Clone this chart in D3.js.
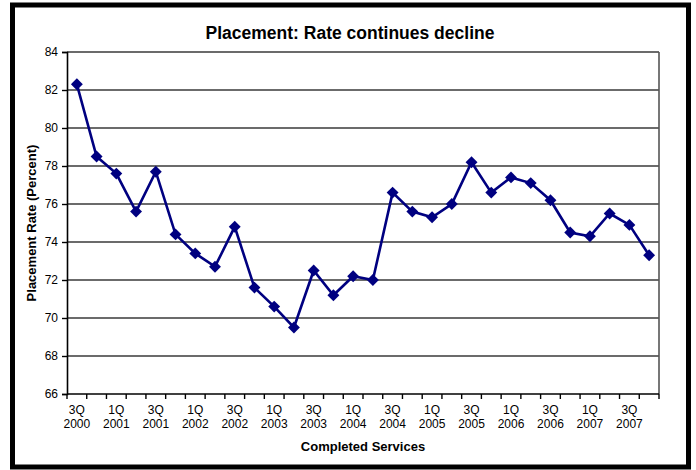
<!DOCTYPE html>
<html>
<head>
<meta charset="utf-8">
<script src="https://cdn.jsdelivr.net/npm/d3@7"></script>
<style>
	body { margin: 0; background: #fff; }
	text { font-family: "Liberation Sans", Arial, sans-serif; }
</style>
</head>
<body>
<script>
// Quarters from 3Q 2000 to 4Q 2007
var quarters = ["3Q 2000","4Q 2000","1Q 2001","2Q 2001","3Q 2001","4Q 2001","1Q 2002","2Q 2002",
				"3Q 2002","4Q 2002","1Q 2003","2Q 2003","3Q 2003","4Q 2003","1Q 2004","2Q 2004",
				"3Q 2004","4Q 2004","1Q 2005","2Q 2005","3Q 2005","4Q 2005","1Q 2006","2Q 2006",
				"3Q 2006","4Q 2006","1Q 2007","2Q 2007","3Q 2007","4Q 2007"];

// Placement rate (percent)
var rates = [82.3, 78.5, 77.6, 75.6, 77.7, 74.4, 73.4, 72.7, 74.8, 71.6, 70.6, 69.5, 72.5, 71.2, 72.2, 72.0,
			 76.6, 75.6, 75.3, 76.0, 78.2, 76.6, 77.4, 77.1, 76.2, 74.5, 74.3, 75.5, 74.9, 73.3];

var yTicks = [66, 68, 70, 72, 74, 76, 78, 80, 82, 84];

var data = quarters.map(function(q, i) { return {"q": q, "rate": rates[i]}; });

var margin = {top: 52, right: 37, bottom: 76, left: 67},
		width = 696 - margin.left - margin.right,
		height = 470 - margin.top - margin.bottom;

var svg = d3.select("body").append("svg")
		.attr("width", 696)
		.attr("height", 470);

// Outer black frame
svg.append("rect")
	.attr("x", 12.5)
	.attr("y", 5)
	.attr("width", 676)
	.attr("height", 462)
	.attr("fill", "#fff")
	.attr("stroke", "#000")
	.attr("stroke-width", 5);

var g = svg.append("g")
		.attr("transform", "translate(" + margin.left + "," + margin.top + ")");

var x = d3.scaleBand().domain(quarters).range([0, width]);
var y = d3.scaleLinear().domain([66, 84]).range([height, 0]);

// Gridlines
g.selectAll(".grid")
	.data(yTicks.slice(1))
	.enter().append("line")
		.attr("class", "grid")
		.attr("x1", 0)
		.attr("x2", width)
		.attr("y1", function(d) { return y(d); })
		.attr("y2", function(d) { return y(d); })
		.attr("stroke", "#3a3a3a")
		.attr("stroke-width", 1.6);

// Right border of plot area
g.append("line")
	.attr("x1", width).attr("x2", width)
	.attr("y1", 0).attr("y2", height)
	.attr("stroke", "#555")
	.attr("stroke-width", 1.6);

// Y axis
var yAxis = d3.axisLeft(y).tickValues(yTicks).tickSize(5).tickPadding(4);
var yg = g.append("g").call(yAxis);
yg.select(".domain").attr("stroke-width", 1.6);
yg.selectAll(".tick line").attr("stroke-width", 1.4);
yg.selectAll("text").style("font-size", "12px").attr("fill", "#000");

// X axis: ticks at category boundaries, labels every other quarter
var xg = g.append("g").attr("transform", "translate(0," + height + ")");
xg.append("line")
	.attr("x1", 0).attr("x2", width)
	.attr("stroke", "#000")
	.attr("stroke-width", 1.6);
xg.selectAll(".xtick")
	.data(d3.range(quarters.length + 1))
	.enter().append("line")
		.attr("class", "xtick")
		.attr("x1", function(i) { return i * x.step(); })
		.attr("x2", function(i) { return i * x.step(); })
		.attr("y1", 0)
		.attr("y2", 5)
		.attr("stroke", "#000")
		.attr("stroke-width", 1.4);

var labels = xg.selectAll(".xlabel")
	.data(quarters.filter(function(d, i) { return i % 2 == 0; }))
	.enter().append("text")
		.attr("class", "xlabel")
		.attr("text-anchor", "middle")
		.style("font-size", "12px")
		.attr("transform", function(d) { return "translate(" + (x(d) + x.bandwidth() / 2) + ",0)"; });
labels.append("tspan").attr("x", 0).attr("y", 20).text(function(d) { return d.split(" ")[0]; });
labels.append("tspan").attr("x", 0).attr("y", 34).text(function(d) { return d.split(" ")[1]; });

// Line and diamond markers
var line = d3.line()
	.x(function(d) { return x(d.q) + x.bandwidth() / 2; })
	.y(function(d) { return y(d.rate); });

g.append("path")
	.datum(data)
	.attr("fill", "none")
	.attr("stroke", "#000080")
	.attr("stroke-width", 2.6)
	.attr("d", line);

g.selectAll(".pt")
	.data(data)
	.enter().append("path")
		.attr("class", "pt")
		.attr("d", d3.symbol().type(d3.symbolDiamond2).size(90))
		.attr("fill", "#000080")
		.attr("transform", function(d) { return "translate(" + (x(d.q) + x.bandwidth() / 2) + "," + y(d.rate) + ")"; });

// Title
svg.append("text")
	.attr("x", 350)
	.attr("y", 39)
	.attr("text-anchor", "middle")
	.style("font-size", "17.5px")
	.style("font-weight", "bold")
	.text("Placement: Rate continues decline");

// X axis title
svg.append("text")
	.attr("x", margin.left + width / 2)
	.attr("y", 451)
	.attr("text-anchor", "middle")
	.style("font-size", "13px")
	.style("font-weight", "bold")
	.text("Completed Services");

// Y axis title
svg.append("text")
	.attr("transform", "rotate(-90)")
	.attr("x", -(margin.top + height / 2))
	.attr("y", 36)
	.attr("text-anchor", "middle")
	.style("font-size", "13px")
	.style("font-weight", "bold")
	.text("Placement Rate (Percent)");
</script>
</body>
</html>
